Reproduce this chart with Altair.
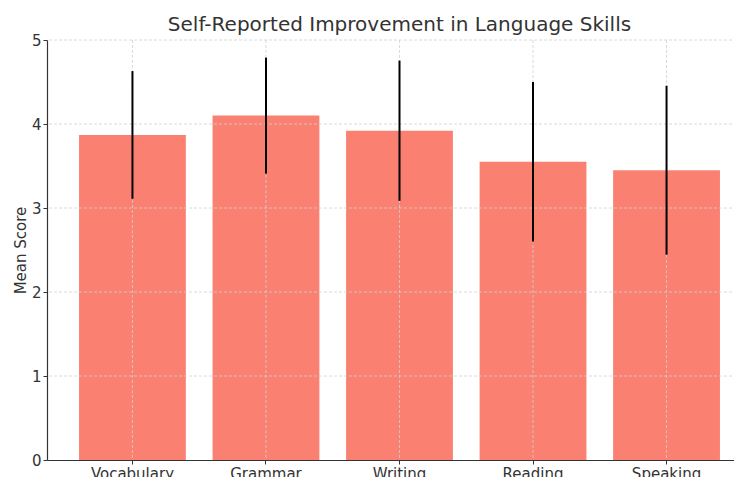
import altair as alt
import pandas as pd

skills = ["Vocabulary", "Grammar", "Writing", "Reading", "Speaking"]
means = [3.87, 4.10, 3.92, 3.55, 3.45]
stds = [0.76, 0.69, 0.835, 0.95, 1.005]
y_ticks = [0, 1, 2, 3, 4, 5]

df = pd.DataFrame({"skill": skills, "mean": means, "std": stds})
df["lower"] = df["mean"] - df["std"]
df["upper"] = df["mean"] + df["std"]
grid_df = pd.DataFrame({"v": y_ticks[1:]})

FONT = "DejaVu Sans"
TXT = "#333333"
GRID = "#d0d0d0"

x_enc = alt.X(
    "skill:N",
    sort=skills,
    scale=alt.Scale(paddingInner=0.2, paddingOuter=0.24),
    axis=alt.Axis(
        title=None, labelAngle=0, labelFontSize=15, labelColor=TXT, labelFont=FONT,
        tickSize=4, tickColor=TXT, domainColor=TXT, domainWidth=1.2,
        labelPadding=2, grid=False, zindex=1,
    ),
)
y_scale = alt.Scale(domain=[0, 5], nice=False)

bars = alt.Chart(df).mark_bar(color="#FA8072").encode(
    x=x_enc,
    y=alt.Y(
        "mean:Q",
        scale=y_scale,
        axis=alt.Axis(
            title="Mean Score", titleFontSize=15, titleFontWeight="normal",
            titleColor=TXT, titleFont=FONT, titlePadding=3,
            values=y_ticks, format="d", labelFontSize=15, labelColor=TXT,
            labelFont=FONT, tickSize=4, tickColor=TXT, domainColor=TXT,
            domainWidth=1.2, labelPadding=2, grid=False, zindex=1,
        ),
    ),
)

xgrid = alt.Chart(df).mark_rule(color=GRID, strokeDash=[3, 2], strokeWidth=0.8).encode(
    x=alt.X("skill:N", sort=skills),
)
ygrid = alt.Chart(grid_df).mark_rule(color=GRID, strokeDash=[3, 2], strokeWidth=0.8).encode(
    y=alt.Y("v:Q", scale=y_scale),
)

errs = alt.Chart(df).mark_rule(color="black", strokeWidth=2).encode(
    x=alt.X("skill:N", sort=skills),
    y="lower:Q",
    y2="upper:Q",
)

chart = (
    alt.layer(bars, xgrid, ygrid, errs)
    .properties(
        width=705,
        height=420,
        autosize=alt.AutoSizeParams(type="none"),
        padding={"left": 39, "top": 32, "right": -18, "bottom": 17},
        title=alt.TitleParams(
            "Self-Reported Improvement in Language Skills",
            font=FONT, fontSize=20, fontWeight="normal", color=TXT,
            offset=3, dy=5,
        ),
    )
    .configure_view(stroke=None)
)

chart.save("out.html", embed_options={"renderer": "svg", "actions": False})
